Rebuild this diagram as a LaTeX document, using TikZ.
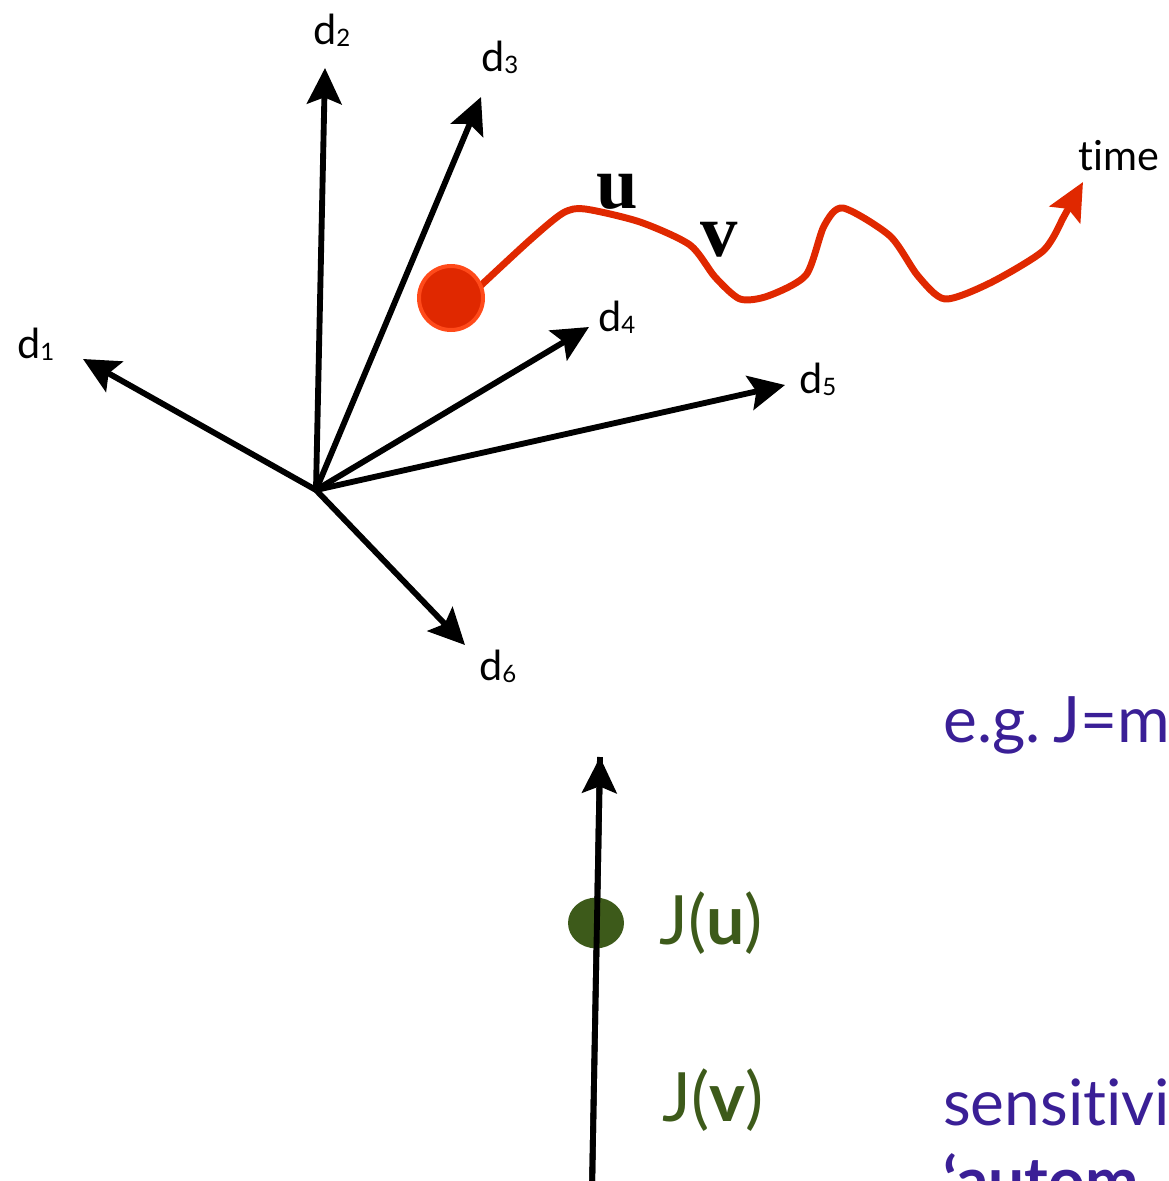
\documentclass[tikz,border=0pt]{standalone}
\usepackage{fontspec}
\setmainfont{Lato}[Ligatures=NoCommon]
\newfontfamily\serifb{Liberation Serif}
\usetikzlibrary{arrows.meta,shapes.geometric}
\definecolor{purp}{HTML}{3A1F96}
\definecolor{grn}{HTML}{3D5A1A}
\definecolor{redc}{HTML}{E02800}
\definecolor{redo}{HTML}{FF4A1A}
\newcommand\dsub[1]{{\fontsize{18}{18}\selectfont\raisebox{-1.5pt}{#1}}}
\begin{document}
\begin{tikzpicture}[x=0.75pt,y=-0.75pt,
  axis/.style={line width=4.4pt,-{Stealth[length=27pt,width=26pt,inset=5pt]}},
  dlabel/.style={font=\fontsize{31}{34}\selectfont,inner sep=0pt,anchor=base west},
  biglabel/.style={font=\fontsize{48}{50}\selectfont,inner sep=0pt,anchor=base west},
  greenlabel/.style={biglabel,font=\fontsize{51}{54}\selectfont,text=grn},
  purplabel/.style={biglabel,text=purp},
  letterlabel/.style={font=\fontsize{56}{58}\selectfont\serifb\bfseries,inner sep=0pt}]
\useasboundingbox (0,0) rectangle (1168,1181);
\clip (0,0) rectangle (1168,1181);

% star of directions
\coordinate (O) at (316,490);
\coordinate (t1) at (83,359);
\coordinate (t2) at (325,68);
\coordinate (t3) at (481,97);
\coordinate (t4) at (589,327);
\coordinate (t5) at (785,385);
\coordinate (t6) at (465,645);
\foreach \i in {1,...,6} \draw[axis] (O) -- (t\i);

\node[dlabel] (l1) at (17,358) {d\dsub{1}};
\node[dlabel] (l2) at (313,45) {d\dsub{2}};
\node[dlabel] (l3) at (481,72) {d\dsub{3}};
\node[dlabel] (l4) at (598,331) {d\dsub{4}};
\node[dlabel] (l5) at (799,393) {d\dsub{5}};
\node[dlabel] (l6) at (479,680) {d\dsub{6}};

% trajectory
\coordinate (tip) at (1083,182);
\draw[redc,line width=5.2pt,line join=round,-{Stealth[length=28pt,width=26pt,inset=5pt]}]
  plot[smooth,tension=0.45] coordinates {(476,290) (530,240) (563,213) (585,209) (640,222) (690,245)
   (715,277) (740,299) (768,296) (806,275) (824,226) (843,208) (890,236) (918,276) (945,299)
   (990,283) (1043,251) (1062,220)} -- (tip);
\node[circle,fill=redc,draw=redo,line width=3pt,minimum size=48pt,inner sep=0pt] (dot) at (451,298) {};
\node[letterlabel] (u) at (617,192) {u};
\node[letterlabel] (v) at (719,240) {v};
\node[dlabel] (time) at (1078,170) {time};

% J axis
\coordinate (jb) at (592,1190);
\coordinate (jt) at (600,757);
\draw[axis] (jb) -- (jt);
\node[ellipse,fill=grn,minimum width=42pt,minimum height=38pt,inner sep=0pt] (jdot) at (596,923) {};
\draw[line width=4.4pt] (jb) -- (jt);
\node[greenlabel] (ju) at (659,944) {J(\textbf{u})};
\node[greenlabel] (jv) at (662,1121) {J(\textbf{v})};

% texts
\node[purplabel] (eg) at (943,742) {e.g.\hspace{0.2em}J=ma};
\node[purplabel] (sens) at (943,1125) {sensitivit};
\node[purplabel,font=\fontsize{48}{50}\selectfont\bfseries] (auto) at (943,1203) {‘autom};
\end{tikzpicture}
\end{document}
